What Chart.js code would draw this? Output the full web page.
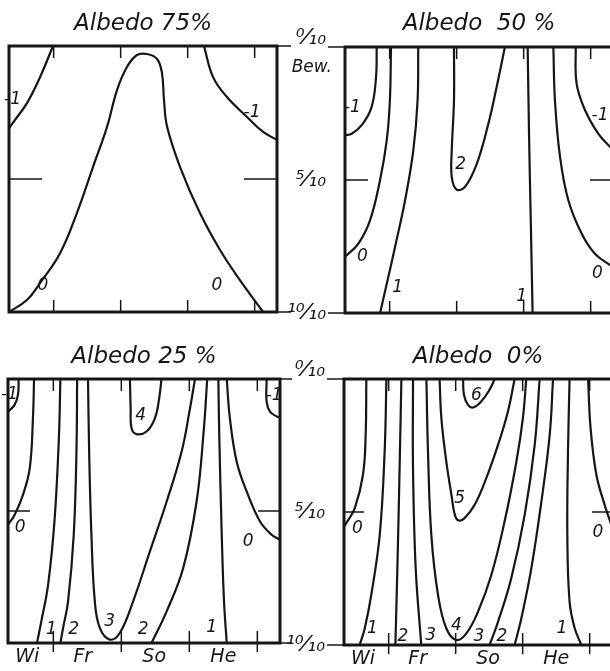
<!DOCTYPE html>
<html>
<head>
<meta charset="utf-8">
<script src="https://cdn.jsdelivr.net/npm/chart.js@4"></script>
<style>
  html, body { margin: 0; padding: 0; background: #fff; }
  #sheet { position: relative; width: 610px; height: 671px; overflow: hidden; background: #fff; }
  #sheet canvas { position: absolute; }
</style>
</head>
<body>
<div id="sheet">
  <canvas id="c75" width="300" height="320" style="left:0;top:0"></canvas>
  <canvas id="c50" width="346" height="320" style="left:277px;top:0"></canvas>
  <canvas id="c25" width="300" height="338" style="left:0;top:333px"></canvas>
  <canvas id="c0" width="345" height="338" style="left:277px;top:333px"></canvas>
</div>
<script>
// x: months from 1 January (0..12), y: cloud cover in tenths (0 at top)
const INK = '#161616';
const FONT = '"DejaVu Sans", sans-serif';
const SEASONS = ['Wi', 'Fr', 'So', 'He'];
const SEASON_AT = [0.85, 3.3, 6.45, 9.5];
const SEASON_BREAKS = [2, 5, 8, 11];
const CLOUD_TICKS = ['⁰⁄₁₀', '⁵⁄₁₀', '¹⁰⁄₁₀'];

// isolines, one entry per line: value, where its number sits, points along it
const ALB75 = [
  { level: -1, marks: [[0.16, 2.03]], pts: [[1.97, 0], [1.39, 1.17], [0.81, 2.14], [0.27, 2.78], [0, 3.1]] },
  { level: -1, marks: [[10.88, 2.52]], pts: [[8.73, 0], [9.14, 1.17], [9.76, 1.92], [10.66, 2.67], [11.38, 3.23], [12, 3.53]] },
  { level: 0, marks: [[1.52, 9.02], [9.31, 9.02]], pts: [[0, 10], [0.8, 9.55], [1.39, 8.91], [2.28, 7.8], [3.04, 6.28], [3.76, 4.55], [4.39, 3.04], [4.84, 1.65], [5.28, 0.79], [5.73, 0.34], [6.18, 0.3], [6.63, 0.49], [6.85, 1.02], [6.94, 2.03], [7.08, 3.04], [7.66, 4.55], [8.55, 6.28], [9.45, 7.67], [10.34, 8.8], [11.38, 10]] }
];

const ALB50 = [
  { level: -1, marks: [[0.33, 2.28]], pts: [[1.42, 0], [1.39, 1.13], [1.19, 2.26], [0.75, 2.94], [0.3, 3.26], [0, 3.32]] },
  { level: 0, marks: [[0.78, 7.87]], pts: [[2.06, 0], [2.01, 2.0], [1.87, 3.5], [1.57, 5.0], [1.12, 6.52], [0.6, 7.39], [0, 7.89]] },
  { level: 1, marks: [[2.36, 9.05]], pts: [[3.28, 0], [3.25, 2.0], [3.06, 3.88], [2.69, 5.76], [2.24, 7.52], [1.87, 8.9], [1.57, 10]] },
  { level: 2, marks: [[5.18, 4.41]], pts: [[4.88, 0], [4.88, 2.0], [4.78, 3.88], [4.78, 4.89], [5.0, 5.36], [5.37, 5.26], [5.9, 4.39], [6.42, 2.88], [6.79, 1.5], [7.16, 0]] },
  { level: 1, marks: [[7.91, 9.4]], pts: [[8.18, 0], [8.24, 3.26], [8.33, 7.02], [8.4, 10]] },
  { level: 0, marks: [[11.3, 8.52]], pts: [[9.33, 0], [9.4, 2], [9.63, 4.14], [10.0, 5.76], [10.6, 7.02], [11.19, 7.77], [11.87, 8.2], [12, 8.27]] },
  { level: -1, marks: [[11.42, 2.57]], pts: [[10.33, 0], [10.37, 1.38], [10.75, 2.38], [11.34, 3.26], [11.87, 3.76], [12, 3.86]] }
];

const ALB25 = [
  { level: -1, marks: [[0.07, 0.58]], pts: [[0.47, 0], [0.44, 0.6], [0.29, 0.98], [0.04, 1.21], [0, 1.24]] },
  { level: 0, marks: [[0.54, 5.62]], pts: [[1.15, 0], [1.1, 1.49], [0.96, 3.38], [0.66, 4.39], [0.29, 5.15], [0, 5.52]] },
  { level: 1, marks: [[1.91, 9.5]], pts: [[2.31, 0], [2.25, 2.12], [2.06, 5.27], [1.77, 7.79], [1.47, 9.18], [1.28, 10]] },
  { level: 2, marks: [[2.9, 9.5]], pts: [[3.05, 0], [3.02, 2.75], [2.9, 5.9], [2.65, 8.42], [2.43, 9.43], [2.31, 10]] },
  { level: 3, marks: [[4.49, 9.18]], pts: [[3.53, 0], [3.58, 2.75], [3.68, 5.9], [3.83, 8.42], [4.05, 9.43], [4.49, 9.87], [4.93, 9.62], [5.52, 8.42], [6.26, 6.53], [7.0, 4.64], [7.66, 2.75], [8.03, 1.11], [8.25, 0]] },
  { level: 4, marks: [[5.85, 1.39]], pts: [[5.38, 0], [5.41, 1.11], [5.45, 1.87], [5.67, 2.09], [6.11, 1.99], [6.48, 1.49], [6.67, 0.73], [6.77, 0]] },
  { level: 2, marks: [[5.96, 9.5]], pts: [[6.33, 10], [7.0, 8.8], [7.73, 7.16], [8.32, 4.64], [8.62, 2.12], [8.79, 0]] },
  { level: 1, marks: [[8.98, 9.43]], pts: [[9.28, 0], [9.32, 2.12], [9.43, 5.9], [9.53, 8.42], [9.65, 10]] },
  { level: 0, marks: [[10.6, 6.15]], pts: [[9.65, 0], [9.79, 1.49], [10.09, 3.13], [10.53, 4.26], [11.12, 5.4], [11.63, 5.9], [12, 6.09]] },
  { level: -1, marks: [[11.74, 0.63]], pts: [[11.41, 0], [11.41, 0.86], [11.56, 1.24], [11.86, 1.42], [12, 1.46]] }
];

const ALB0 = [
  { level: 0, marks: [[0.6, 5.63]], pts: [[1.0, 0], [0.97, 2.1], [0.85, 3.6], [0.48, 4.86], [0.1, 5.42], [0, 5.55]] },
  { level: 1, marks: [[1.27, 9.4]], pts: [[1.9, 0], [1.82, 2.72], [1.6, 5.86], [1.22, 8.12], [0.93, 9.37], [0.7, 10]] },
  { level: 2, marks: [[2.64, 9.69]], pts: [[2.57, 0], [2.49, 3.35], [2.39, 7.11], [2.3, 10]] },
  { level: 3, marks: [[3.88, 9.65]], pts: [[3.09, 0], [3.09, 3.35], [3.21, 7.11], [3.46, 10]] },
  { level: 4, marks: [[5.03, 9.27]], pts: [[3.69, 0], [3.76, 2.72], [3.91, 5.86], [4.21, 8.12], [4.58, 9.37], [5.03, 9.81], [5.48, 9.56], [6.0, 8.75], [6.6, 7.36], [7.19, 5.36], [7.72, 3.1], [8.01, 1.47], [8.16, 0]] },
  { level: 5, marks: [[5.18, 4.48]], pts: [[4.28, 0], [4.36, 1.47], [4.58, 3.1], [4.81, 4.35], [4.96, 5.1], [5.13, 5.32], [5.4, 5.23], [5.85, 4.73], [6.37, 3.73], [6.9, 2.47], [7.34, 1.22], [7.64, 0]] },
  { level: 6, marks: [[5.93, 0.61]], pts: [[5.33, 0], [5.37, 0.59], [5.55, 0.97], [5.78, 1.07], [6.15, 0.84], [6.52, 0.4], [6.75, 0]] },
  { level: 3, marks: [[6.04, 9.69]], pts: [[6.52, 10], [6.9, 9.12], [7.49, 7.49], [8.09, 5.11], [8.54, 2.47], [8.76, 0]] },
  { level: 2, marks: [[7.07, 9.69]], pts: [[7.64, 10], [7.94, 9.0], [8.39, 7.11], [8.84, 4.6], [9.21, 2.1], [9.36, 0]] },
  { level: 1, marks: [[9.76, 9.4]], pts: [[10.63, 10], [10.33, 9.37], [10.1, 8.37], [10.0, 5.86], [10.03, 2.72], [10.1, 0]] },
  { level: 0, marks: [[11.37, 5.76]], pts: [[10.93, 0], [11.04, 1.84], [11.3, 3.6], [11.67, 4.73], [12, 5.55]] }
];

// box, season ticks, lead lines and the isoline numbers
const frame = {
  id: 'frame',
  afterDatasetsDraw(chart, args, opts) {
    const { ctx, chartArea: a, scales: { x, y } } = chart;
    ctx.save();
    ctx.strokeStyle = INK;
    ctx.lineWidth = 1.5;
    ctx.beginPath();
    SEASON_BREAKS.forEach(m => {
      const px = x.getPixelForValue(m);
      ctx.moveTo(px, a.top); ctx.lineTo(px, a.top + 12);
      ctx.moveTo(px, a.bottom - 12); ctx.lineTo(px, a.bottom + opts.tickOut);
    });
    const mid = y.getPixelForValue(5);
    ctx.moveTo(a.left, mid); ctx.lineTo(a.left + opts.midTick, mid);
    ctx.moveTo(a.right, mid); ctx.lineTo(a.right - opts.midTick, mid);
    [0, 10].forEach(v => {
      const py = y.getPixelForValue(v);
      const ex = opts.lead > 0 ? a.right : a.left;
      ctx.moveTo(ex, py); ctx.lineTo(ex + opts.lead, py);
    });
    ctx.stroke();

    ctx.lineWidth = 3;
    ctx.strokeRect(a.left, a.top, a.right - a.left, a.bottom - a.top);

    ctx.fillStyle = INK;
    ctx.font = 'italic 17px ' + FONT;
    ctx.textAlign = 'center';
    ctx.textBaseline = 'middle';
    chart.data.datasets.forEach(ds => {
      ds.marks.forEach(([lx, ly]) => {
        ctx.fillText(String(ds.level), x.getPixelForValue(lx), y.getPixelForValue(ly));
      });
    });
    if (opts.unit) {
      ctx.textAlign = 'right';
      ctx.fillText(opts.unit, a.left - 13, y.getPixelForValue(0) + 21);
    }
    ctx.restore();
  }
};

function drawPanel(id, title, lines, cfg) {
  return new Chart(document.getElementById(id), {
    type: 'scatter',
    data: {
      datasets: lines.map(l => ({
        level: l.level,
        marks: l.marks,
        data: l.pts.map(([x, y]) => ({ x, y })),
        showLine: true,
        borderColor: INK,
        borderWidth: 2.2,
        tension: 0.4,
        pointRadius: 0,
        pointHoverRadius: 0
      }))
    },
    options: {
      responsive: false,
      animation: false,
      events: [],
      layout: { padding: cfg.padding },
      plugins: {
        legend: { display: false },
        tooltip: { enabled: false },
        title: {
          display: true,
          text: title,
          fullSize: false,
          color: INK,
          font: { family: FONT, size: 23, style: 'italic', weight: 'normal', lineHeight: 1.2 },
          padding: { top: 10, bottom: cfg.titleGap }
        },
        frame: { tickOut: cfg.tickOut, midTick: cfg.midTick, lead: cfg.lead, unit: cfg.unit }
      },
      scales: {
        x: {
          type: 'linear', min: 0, max: 12,
          display: !!cfg.xAxis,
          grid: { display: false, drawTicks: false },
          border: { display: false },
          afterBuildTicks: s => { s.ticks = SEASON_AT.map(v => ({ value: v })); },
          afterFit: s => { s.height = cfg.xAxis || 0; s.paddingLeft = 0; s.paddingRight = 0; },
          ticks: {
            autoSkip: false, maxRotation: 0, padding: 3, color: INK,
            font: { family: FONT, size: 19, style: 'italic' },
            callback: (v, i) => SEASONS[i]
          }
        },
        y: {
          type: 'linear', min: 0, max: 10, reverse: true,
          display: !!cfg.yAxis,
          grid: { display: false, drawTicks: false },
          border: { display: false },
          afterFit: s => { s.width = cfg.yAxis || 0; s.paddingTop = 0; s.paddingBottom = 0; },
          ticks: {
            stepSize: 5, padding: 19, color: INK,
            font: { family: FONT, size: 22, style: 'italic', lineHeight: 0.8 },
            callback: v => v === 0 ? [CLOUD_TICKS[0], ''] : CLOUD_TICKS[v / 5]
          }
        }
      }
    },
    plugins: [frame]
  });
}

drawPanel('c75', 'Albedo 75%', ALB75, {
  padding: { left: 9, right: 23, bottom: 8 }, titleGap: 8.4,
  tickOut: 0, midTick: 33, lead: 14
});
drawPanel('c50', 'Albedo  50 %', ALB50, {
  padding: { right: 10, bottom: 7 }, titleGap: 9.4, yAxis: 68,
  tickOut: 0, midTick: 23, lead: -17, unit: 'Bew.'
});
drawPanel('c25', 'Albedo 25 %', ALB25, {
  padding: { left: 8, right: 20 }, titleGap: 8.4, xAxis: 28,
  tickOut: 9, midTick: 22, lead: 12
});
drawPanel('c0', 'Albedo  0%', ALB0, {
  padding: { right: 10 }, titleGap: 8.4, xAxis: 26, yAxis: 67,
  tickOut: 9, midTick: 20, lead: -17
});
</script>
</body>
</html>
